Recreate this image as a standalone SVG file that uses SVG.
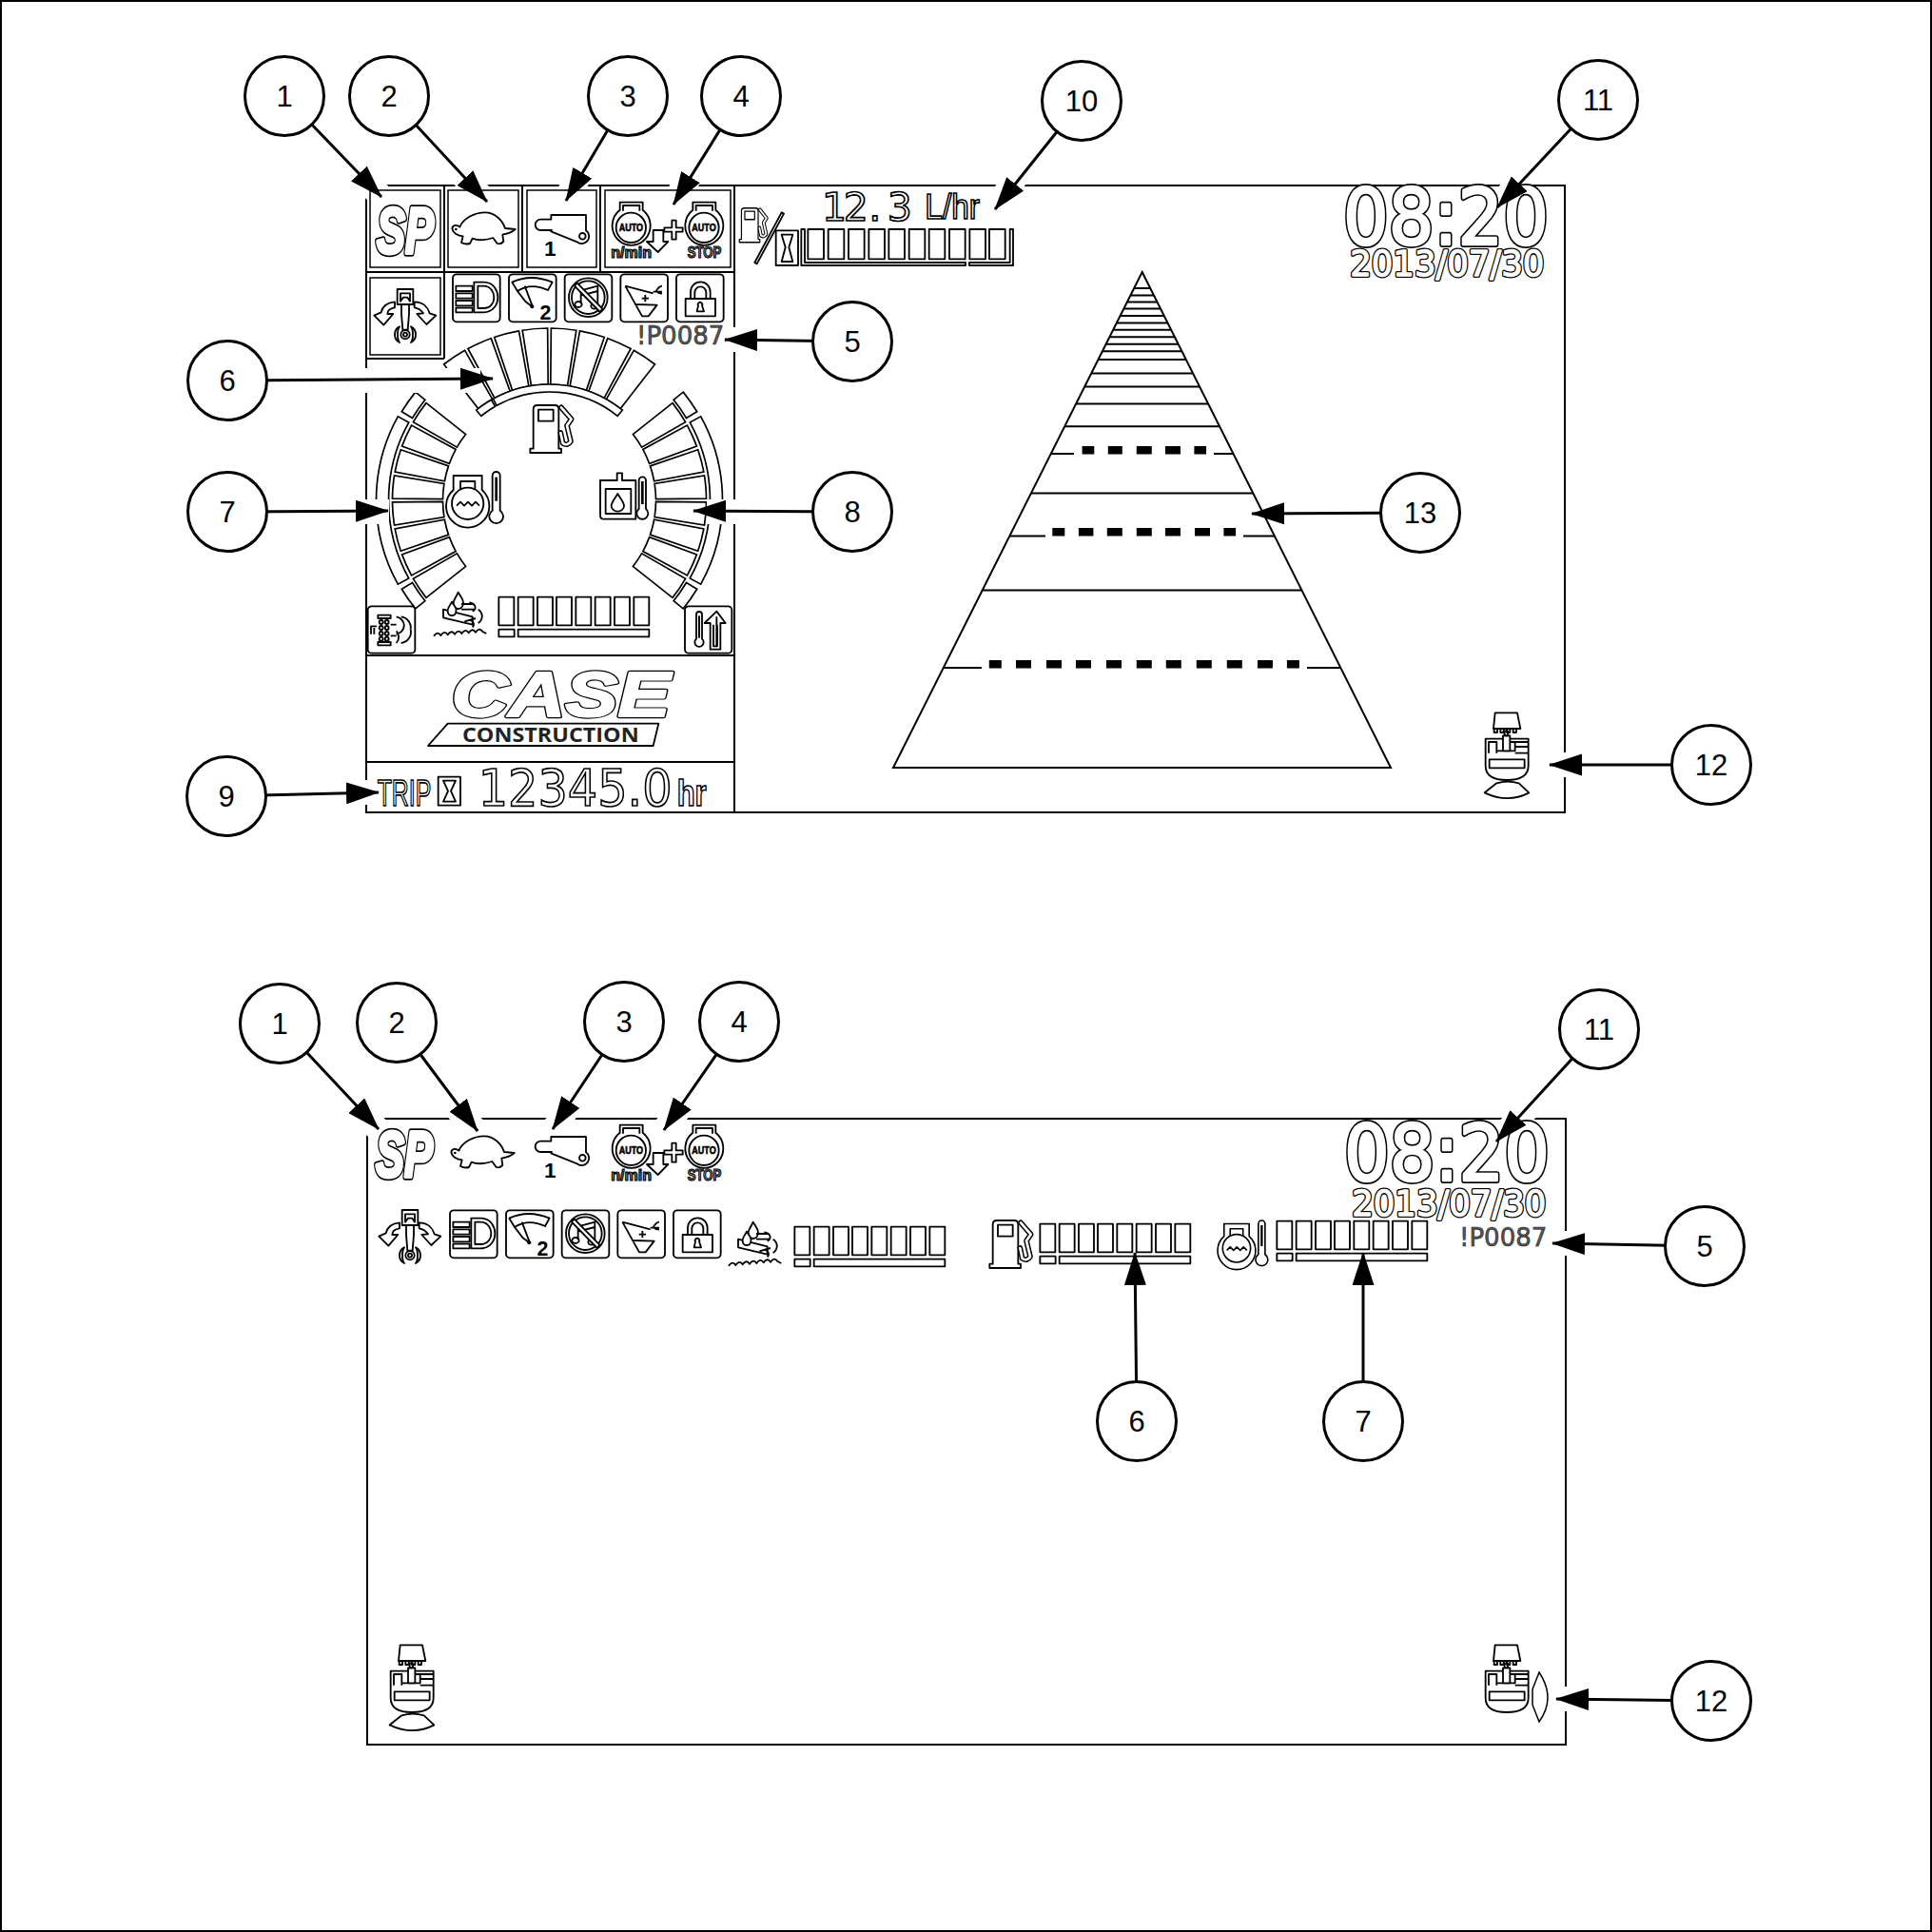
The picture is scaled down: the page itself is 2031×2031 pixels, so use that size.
<svg xmlns="http://www.w3.org/2000/svg" xmlns:xlink="http://www.w3.org/1999/xlink" width="2031" height="2031" viewBox="0 0 2031 2031">
<style>
.bg{fill:#fff}
.pl{fill:none;stroke:#000;stroke-width:2}
.hl{fill:none;stroke:#fff;stroke-width:26}
.z{fill:#fff;stroke:#000;stroke-width:5.5;stroke-linejoin:round}
.zn{fill:none;stroke:#000;stroke-width:5.5;stroke-linejoin:round}
.zk{fill:#000;stroke:none}
.g{fill:#fff;stroke:#000;stroke-width:1.7}
.gs{fill:#fff;stroke:#000;stroke-width:1.5}
.tl{fill:none;stroke:#000;stroke-width:2}
.dash{fill:#000;stroke:none}
.ot{font-family:"DejaVu Sans",sans-serif;fill:#fff;stroke:#000;stroke-width:5}
.ob{font-family:"Liberation Sans",sans-serif;font-weight:bold;fill:#fff;stroke:#000;stroke-width:5}
.fat{stroke-linejoin:round}
.bk{font-family:"Liberation Sans",sans-serif;font-weight:bold;fill:#000}
.sm{font-family:"Liberation Sans",sans-serif;font-weight:bold;fill:#888;stroke:#000;stroke-width:3.5}
.code{font-family:"DejaVu Sans",sans-serif;font-size:26px;fill:#555;stroke:#222;stroke-width:.6}
.num{font-family:"Liberation Sans",sans-serif;font-size:31px;fill:#000;text-anchor:middle}
.nc{fill:#fff;stroke:#000;stroke-width:3}
.ar{fill:none;stroke:#000;stroke-width:3;marker-end:url(#head)}
</style>
<defs>
<marker id="head" markerUnits="userSpaceOnUse" markerWidth="35" markerHeight="23" refX="34" refY="11.5" orient="auto"><path d="M0,0L35,11.5L0,23Z" fill="#000"/></marker>
<clipPath id="tri"><path d="M1200.7,286L1462,807L939,807Z"/></clipPath>
<path id="seg" class="g" d="M111.7,-8.2A112,112 0 0 1 111.7,8.2L164.6,12.1A165,165 0 0 0 164.6,-12.1Z"/>
<path id="fseg" class="g" d="M121.7,-8.9A122,122 0 0 1 121.7,8.9L180.5,13.3A181,181 0 0 0 180.5,-13.3Z"/>
<path id="band" class="g" d="M147.8,-81.9A169,169 0 0 1 147.8,81.9L159.2,88.2A182,182 0 0 0 159.2,-88.2Z"/>
<path id="cell" class="g" d="M144,-86.5L155.2,-93.2A181,181 0 0 0 140.7,-113.9L130.6,-105.7A168,168 0 0 1 144,-86.5Z"/>
<g id="half">
<use xlink:href="#seg" transform="rotate(-34.125)"/><use xlink:href="#seg" transform="rotate(-24.375)"/><use xlink:href="#seg" transform="rotate(-14.625)"/><use xlink:href="#seg" transform="rotate(-4.875)"/>
<use xlink:href="#seg" transform="rotate(4.875)"/><use xlink:href="#seg" transform="rotate(14.625)"/><use xlink:href="#seg" transform="rotate(24.375)"/><use xlink:href="#seg" transform="rotate(34.125)"/>
<use xlink:href="#band"/><use xlink:href="#cell"/><use xlink:href="#cell" transform="scale(1,-1)"/>
</g>
<text id="sp-t" class="fat" font-family="'Liberation Sans',sans-serif" font-weight="bold" font-style="italic" x="396" y="266" font-size="68" textLength="60" lengthAdjust="spacingAndGlyphs">SP</text>
<g id="ic-sp"><use xlink:href="#sp-t" fill="#000" stroke="#000" stroke-width="7.5"/><use xlink:href="#sp-t" fill="#fff" stroke="#fff" stroke-width="4"/></g>
<g id="ic-turtle" transform="translate(370 180) scale(.33333)">
<path class="z" d="M340,176C350,150 385,130 420,130C450,130 475,155 483,180L515,183C505,193 490,197 475,200L478,222Q468,232 458,228L445,210C420,218 395,218 380,212L372,228Q358,232 345,225L350,205C335,205 318,195 316,180C318,168 332,168 340,176Z"/>
<circle class="zk" cx="328" cy="183" r="4"/>
</g>
<g id="ic-lever" transform="translate(370 180) scale(.33333)">
<path class="z" d="M628,152L628,138L738,138L738,187A20,20 0 1 1 712,224L628,190L630,186L595,186A17,17 0 0 1 595,152Z"/>
<circle class="z" cx="727" cy="205" r="10"/>
<text class="bk" x="625" y="268" font-size="68" text-anchor="middle">1</text>
</g>
<g id="eng">
<path class="z" d="M845,122L845,98L917,98L917,122A60,62 0 1 1 845,122Z"/>
<path class="zn" d="M855,125L855,108L907,108L907,125"/>
<circle class="z" cx="880" cy="178" r="47"/>
<text class="bk" x="880" y="190" font-size="34" text-anchor="middle" textLength="76" lengthAdjust="spacingAndGlyphs" stroke="#000" stroke-width="2">AUTO</text>
</g>
<g id="ic-auto" transform="translate(370 180) scale(.33333)">
<use xlink:href="#eng"/><use xlink:href="#eng" x="230"/>
<path class="z" d="M950,186L982,186L982,222L997,222L965,255L930,222L950,222Z"/>
<path class="z" d="M1009,155h13v23h21v13h-21v24h-13v-24h-24v-13h24Z"/>
<text class="sm" x="817" y="273" font-size="48" textLength="128" lengthAdjust="spacingAndGlyphs">n/min</text>
<text class="sm" x="1058" y="272" font-size="48" textLength="107" lengthAdjust="spacingAndGlyphs">STOP</text>
</g>
<g id="ic-piston" transform="translate(370 180) scale(.33333)">
<path class="z" d="M135,412C105,415 95,430 92,445L70,455L100,485L130,450L112,450C112,440 120,432 135,430Z"/>
<path class="z" d="M197,412C225,412 240,430 245,448L265,455L235,483L205,450L225,448C218,438 210,432 197,430Z"/>
<path class="z" d="M156,420L156,450L160,500L176,500L180,450L180,420Z"/>
<rect class="z" x="143" y="372" width="50" height="48"/>
<path class="zn" d="M153,410L153,385L183,385L183,410L175,398L162,398Z"/>
<path class="z" d="M150,490C130,500 130,530 150,540C142,530 142,500 150,490Z"/>
<path class="z" d="M186,490C206,500 206,530 186,540C194,530 194,500 186,490Z"/>
<circle class="z" cx="168" cy="515" r="14"/><circle class="z" cx="168" cy="515" r="6"/>
</g>
<g id="ic-row" transform="translate(370 180) scale(.33333)">
<rect class="z" x="318" y="325" width="149" height="150" rx="12"/>
<rect class="z" x="495" y="325" width="149" height="150" rx="12"/>
<rect class="z" x="671" y="325" width="149" height="150" rx="12"/>
<rect class="z" x="847" y="325" width="149" height="150" rx="12"/>
<rect class="z" x="1023" y="325" width="149" height="150" rx="12"/>
<path class="z" d="M328,362h52v16h-52zM328,385h52v16h-52zM328,408h52v16h-52zM328,431h52v14h-52z"/>
<path class="z" d="M385,350L415,350C450,350 460,380 460,398C460,420 445,445 415,445L385,445Z"/>
<path class="zn" d="M397,362L415,362C440,362 448,385 448,398C448,415 438,432 415,432L397,432Z"/>
<path class="z" d="M505,350Q565,322 632,350L618,375Q565,350 522,378Z"/>
<path class="zn" d="M522,378L548,412L568,427M545,362L570,428"/>
<circle class="zk" cx="568" cy="427" r="6"/>
<text class="bk" x="610" y="468" font-size="64" text-anchor="middle">2</text>
<circle class="zn" cx="745" cy="398" r="61"/><circle class="zn" cx="745" cy="398" r="52"/>
<path class="zn" d="M722,418L722,376L775,362L775,422M722,392L775,378"/>
<ellipse class="zn" cx="714" cy="420" rx="11" ry="9"/><ellipse class="zn" cx="765" cy="425" rx="11" ry="9"/>
<path class="z" d="M702,362L710,352L790,434L782,444Z"/>
<path class="zn" d="M862,362L950,385M862,362L915,457L935,457L962,422L892,420"/>
<path class="zn" d="M950,380L958,380C965,368 972,362 978,362M978,380L962,380M962,380C966,385 972,386 978,386"/>
<path class="zn" d="M925,390V412M914,401H936" stroke-width="6"/>
<rect class="z" x="1052" y="402" width="94" height="55"/>
<path class="zn" d="M1068,402L1068,380A31,31 0 0 1 1130,380L1130,402M1081,402L1081,382A18,18 0 0 1 1117,382L1117,402"/>
<path class="zn" d="M1092,424A7,7 0 1 1 1104,424L1110,442L1088,442Z"/>
</g>
<g id="pump" transform="translate(370 180) scale(.33333)">
<path class="z" d="M572,875L572,750Q572,738 585,738L640,738Q652,738 652,750L652,875L660,875L660,888L562,888L562,875Z"/>
<rect class="z" x="588" y="752" width="47" height="36"/>
<path fill="none" stroke="#000" stroke-width="17" stroke-linecap="round" stroke-linejoin="round" d="M660,745L692,782L678,802L690,852Q680,868 665,858L658,825"/>
<path fill="none" stroke="#fff" stroke-width="8" stroke-linecap="round" stroke-linejoin="round" d="M660,745L692,782L678,802L690,852Q680,868 665,858L658,825"/>
</g>
<g id="coolant" transform="translate(370 400) scale(.33333)">
<path class="z" d="M320,345L320,300L410,300L410,345A68,68 0 1 1 320,345Z"/>
<circle class="z" cx="365" cy="388" r="50"/>
<path class="zn" d="M342,345L342,318L388,318L388,345"/>
<path class="zn" d="M330,395l12,-12l12,12l12,-12l12,12l12,-12l12,12M330,385"/>
<path class="z" d="M443,300A12,12 0 0 1 467,300L467,410A22,22 0 1 1 443,410Z"/>
<path class="zk" d="M451,305h8v75h-8z"/>
</g>
<g id="water" transform="translate(370 400) scale(.33333)">
<path class="z" d="M335,668C345,685 355,695 350,705A15,15 0 0 1 320,705C318,695 328,685 335,668Z"/>
<path class="z" d="M288,722L380,745L380,770L288,748Z"/>
<path class="z" d="M315,698C322,710 332,720 328,728A13,13 0 0 1 302,728C300,720 310,708 315,698Z"/>
<path class="zn" d="M370,700A24,16 0 0 1 380,728M398,722A28,26 0 0 1 398,765M370,755A16,14 0 0 1 380,778"/>
<path class="zn" d="M345,705L385,705M345,722L385,722M355,760L390,750"/>
<path class="zn" d="M258,806c8,-12 16,-12 22,-2c8,-12 16,-12 22,-2c8,-12 16,-12 22,-2c8,-12 16,-12 22,-2c8,-12 16,-12 22,-2c8,-12 16,-12 22,-2c8,-12 16,-12 22,-2l12,6" stroke-width="6"/>
</g>
<g id="bars" transform="translate(370 400) scale(.33333)">
<rect class="z" x="463" y="683" width="48" height="89"/><rect class="z" x="524" y="683" width="48" height="89"/><rect class="z" x="585" y="683" width="48" height="89"/><rect class="z" x="645" y="683" width="48" height="89"/><rect class="z" x="706" y="683" width="48" height="89"/><rect class="z" x="767" y="683" width="48" height="89"/><rect class="z" x="828" y="683" width="48" height="89"/><rect class="z" x="889" y="683" width="48" height="89"/>
<rect class="z" x="463" y="785" width="49" height="23"/><rect class="z" x="524" y="785" width="413" height="23"/>
</g>
<g id="excav" transform="translate(1530 730) scale(.33333)">
<path class="z" d="M125,58L195,58L205,108L120,108Z"/>
<path class="zn" d="M122,108v12h10v-12M142,108v12h10v-12M162,108v12h10v-12M182,108v12h10v-12"/>
<path class="z" d="M95,140L230,140L230,225Q230,270 162,270Q95,270 95,225Z"/>
<path class="zn" d="M105,185L105,150L130,150L130,185M130,178L188,178L188,150M172,150H230M188,165H230M188,185H230"/>
<rect class="z" x="150" y="130" width="22" height="48"/>
<rect class="zn" x="155" y="115" width="10" height="15"/>
<rect class="z" x="107" y="205" width="111" height="27"/>
</g>
<path id="sarc" class="z" d="M92,310L130,280Q165,270 200,280L232,310Q165,345 92,310Z" transform="translate(1530 730) scale(.33333)"/>
<text id="t0820-t" class="fat" font-family="'DejaVu Sans',sans-serif" x="66" y="232" font-size="244" textLength="648" lengthAdjust="spacingAndGlyphs">08:20</text>
<g id="t0820" transform="translate(1390 180) scale(.33333)"><use xlink:href="#t0820-t" fill="#000" stroke="#000" stroke-width="18"/><use xlink:href="#t0820-t" fill="#fff" stroke="#fff" stroke-width="8"/></g>
<text id="tdate-t" class="fat" font-family="'DejaVu Sans',sans-serif" x="88" y="330" font-size="110" textLength="612" lengthAdjust="spacingAndGlyphs">2013/07/30</text>
<g id="tdate" transform="translate(1390 180) scale(.33333)"><use xlink:href="#tdate-t" fill="#000" stroke="#000" stroke-width="12"/><use xlink:href="#tdate-t" fill="#fff" stroke="#fff" stroke-width="4"/></g>
<text id="case-t" class="fat" font-family="'Liberation Sans',sans-serif" font-weight="bold" font-style="italic" x="314" y="1060" font-size="200" textLength="690" lengthAdjust="spacingAndGlyphs">CASE</text>
</defs>
<rect class="bg" width="2031" height="2031"/>
<rect x="1" y="1" width="2029" height="2029" fill="none" stroke="#000" stroke-width="2"/>

<g id="panel-top-frame">
<path class="pl" d="M385,195H1645V854H385Z"/>
<path class="pl" d="M772,195V854M385,286H772M467,195V377M549,195V286M631,195V286M385,377H467M385,689H772M385,801H772"/>
</g>
<g id="panel-bottom-frame"><path class="pl" d="M386,1176H1646V1834H386Z"/></g>

<g id="gauges" transform="translate(577.5 526)">
<use xlink:href="#half"/>
<use xlink:href="#half" transform="scale(-1 1)"/>
<use xlink:href="#fseg" transform="rotate(-123.6)"/><use xlink:href="#fseg" transform="rotate(-114)"/><use xlink:href="#fseg" transform="rotate(-104.4)"/><use xlink:href="#fseg" transform="rotate(-94.8)"/>
<use xlink:href="#fseg" transform="rotate(-85.2)"/><use xlink:href="#fseg" transform="rotate(-75.6)"/><use xlink:href="#fseg" transform="rotate(-66)"/><use xlink:href="#fseg" transform="rotate(-56.4)"/>
<path class="g" transform="translate(-577.5 -526)" d="M522.2,426.3A114,114 0 0 1 649.2,437.4L654.3,431.2A122,122 0 0 0 518.4,419.3Z"/>
<path class="g" transform="translate(-577.5 -526)" d="M520.5,427.3A114,114 0 0 0 505.8,437.4L500.7,431.2A122,122 0 0 1 516.5,420.3Z"/>
</g>

<g id="frame-gaps">
<path class="hl" d="M335,138L400,206M445,138L510,211M630,150L594,210M745,155L707,214M1078,170L1046,220M1610,175L1574,218"/>
<path class="hl" d="M790,357H762M743,538H800M505,400H360M409,538H360M430,833H360M1680,804H1625M1360,539H1316"/>
<path class="hl" d="M330,1115L396,1186M440,1120L500,1188M620,1130L582,1187M740,1130L698,1188M1615,1155L1574,1200"/>
<path class="hl" d="M1680,1307H1632M1680,1786H1636"/>
</g>

<g id="pyramid">
<g clip-path="url(#tri)">
<path class="tl" d="M900,302.9H1500M900,310.4H1500M900,317.5H1500M900,324.6H1500M900,332.1H1500M900,339.6H1500M900,346.8H1500M900,354.3H1500M900,361.8H1500M900,369.3H1500M900,377.9H1500M900,392.5H1500M900,406.4H1500M900,424.6H1500M900,448.2H1500M900,518.6H1500M900,620.4H1500"/>
<path class="tl" d="M900,477.1H1129M1276,477.1H1500M900,563.6H1099M1307,563.6H1500M900,702.1H1032M1374,702.1H1500"/>
</g>
<path class="pl" d="M1200.7,286L1462,807H939Z"/>
<path class="dash" d="M1137.6,469h12.7v8.5h-12.7zM1164.8,469h15v8.5h-15zM1194.8,469h16v8.5h-16zM1225,469h16v8.5h-16zM1255.4,469h12.7v8.5h-12.7z"/>
<path class="dash" d="M1106.3,555h13v8.5h-13zM1133.9,555h15.5v8.5h-15.5zM1163.8,555h16v8.5h-16zM1194.8,555h16v8.5h-16zM1225,555h16v8.5h-16zM1256,555h16v8.5h-16zM1286.4,555h12.7v8.5h-12.7z"/>
<path class="dash" d="M1039.8,694h13v8.5h-13zM1068,694h16v8.5h-16zM1100,694h16v8.5h-16zM1131,694h16v8.5h-16zM1163,694h16v8.5h-16zM1194.8,694h16v8.5h-16zM1225.8,694h16v8.5h-16zM1257.8,694h16v8.5h-16zM1289.8,694h16v8.5h-16zM1321.9,694h16v8.5h-16zM1352.9,694h13v8.5h-13z"/>
</g>

<g id="status-top">
<rect class="gs" x="389" y="200" width="74" height="81"/><rect class="gs" x="471" y="200" width="74" height="81"/><rect class="gs" x="554" y="200" width="73" height="81"/><rect class="gs" x="636" y="200" width="132" height="81"/><rect class="gs" x="389" y="292" width="74" height="81"/>
<use xlink:href="#ic-sp"/><use xlink:href="#ic-turtle"/><use xlink:href="#ic-lever"/><use xlink:href="#ic-auto"/><use xlink:href="#ic-piston"/><use xlink:href="#ic-row"/>
<text class="code" x="669" y="362">!P0087</text>
<use xlink:href="#pump"/><use xlink:href="#coolant"/>
<g id="oil" transform="translate(370 400) scale(.33333)">
<path class="z" d="M783,315L783,425Q783,437 795,437L895,437L895,315L852,315L852,292L836,292L836,315Z"/>
<path class="zn" d="M800,342H880V420H800Z"/>
<path class="z" d="M838,357C848,375 858,385 858,395A20,18 0 0 1 818,395C818,385 828,375 838,357Z"/>
<path class="z" d="M905,315A11,11 0 0 1 927,315L927,405A18,18 0 1 1 905,405Z"/>
<path class="zk" d="M912,318h8v72h-8z"/>
</g>
<g id="injector" transform="translate(370 400) scale(.33333)">
<rect class="z" x="50" y="712" width="149" height="148" rx="12"/>
<path class="z" d="M82,740h40v10h-40zM82,825h40v10h-40z"/>
<path class="zn" d="M60,800V775H78M70,800V780"/>
<circle class="zn" cx="92" cy="762" r="6"/><circle class="zn" cx="110" cy="762" r="6"/><circle class="zn" cx="92" cy="780" r="6"/><circle class="zn" cx="110" cy="780" r="6"/><circle class="zn" cx="92" cy="798" r="6"/><circle class="zn" cx="110" cy="798" r="6"/><circle class="zn" cx="92" cy="815" r="6"/><circle class="zn" cx="110" cy="815" r="6"/>
<path class="zn" d="M122,770H140M122,805H140M140,745A30,28 0 0 1 140,800M140,790A28,28 0 0 1 140,828M155,745A35,35 0 0 1 185,785M155,828A35,35 0 0 0 185,785"/>
</g>
<g id="uptemp" transform="translate(370 400) scale(.33333)">
<rect class="z" x="1050" y="712" width="148" height="148" rx="12"/>
<path class="z" d="M1086,738A9,9 0 0 1 1104,738L1104,815A14,14 0 1 1 1086,815Z"/>
<path class="zk" d="M1092,742h6v70h-6z"/>
<path class="z" d="M1150,728L1178,765L1162,765L1162,848L1130,848L1130,765L1112,765Z"/>
<path class="zn" d="M1150,745L1150,838M1140,770L1140,838L1152,838L1152,770"/>
</g>
<use xlink:href="#water"/><use xlink:href="#bars"/>
<g id="logo" transform="translate(370 400) scale(.33333)">
<use xlink:href="#case-t" fill="#000" stroke="#000" stroke-width="13"/><use xlink:href="#case-t" fill="#fff" stroke="#fff" stroke-width="6"/>
<path class="z" d="M240,1152L302,1082L967,1082L950,1152Z"/>
<text x="348" y="1140" font-family="'Open Sans',sans-serif" font-weight="700" font-size="66" fill="#222" textLength="557" lengthAdjust="spacingAndGlyphs">CONSTRUCTION</text>
</g>
<g id="trip" transform="translate(370 400) scale(.33333)">
<text class="ob" x="80" y="1340" font-size="118" textLength="170" lengthAdjust="spacingAndGlyphs" style="font-weight:normal">TRIP</text>
<rect class="z" x="272" y="1250" width="70" height="90"/>
<path class="zn" d="M288,1262H327L312,1295L327,1328H288L303,1295Z"/>
<text class="ot" x="398" y="1342" font-size="158" textLength="612" lengthAdjust="spacingAndGlyphs">12345.0</text>
<text class="ob" x="1025" y="1342" font-size="118" textLength="93" lengthAdjust="spacingAndGlyphs">hr</text>
</g>
<g id="fuel-rate" transform="translate(770 180) scale(.33333)">
<text class="ot" x="282 350 430 488" y="155" font-size="123">12.3</text>
<text class="ob" x="607" y="150" font-size="110" textLength="173" lengthAdjust="spacingAndGlyphs" style="font-weight:normal">L/hr</text>
<path class="z" d="M70,288L155,130L162,134L77,292Z"/>
<rect class="z" x="137" y="187" width="70" height="110"/>
<path class="zn" d="M155,200H190L178,240L190,285H155L167,240Z"/>
<path class="z" d="M238,183h50v94h-50zM302,183h50v94h-50zM366,183h50v94h-50zM430,183h50v94h-50zM493,183h50v94h-50zM557,183h50v94h-50zM620,183h50v94h-50zM684,183h50v94h-50zM748,183h50v94h-50zM810,183h50v94h-50z"/>
<path class="z" d="M217,183L217,297L735,297L735,288L228,288L228,183Z"/>
<path class="z" d="M747,297L747,288L875,288L875,183L885,183L885,297Z"/>
</g>
<use xlink:href="#pump" transform="translate(409.4 -88) scale(.66 .72)"/>
<use xlink:href="#t0820"/><use xlink:href="#tdate"/>
<use xlink:href="#excav"/><use xlink:href="#sarc"/>
</g>

<g id="status-bottom">
<use xlink:href="#ic-sp" transform="translate(-1 971)"/><use xlink:href="#ic-turtle" transform="translate(-1 971)"/><use xlink:href="#ic-lever" transform="translate(0 969)"/><use xlink:href="#ic-auto" transform="translate(0 970)"/><use xlink:href="#ic-piston" transform="translate(5 968)"/><use xlink:href="#ic-row" transform="translate(-3 984)"/>
<use xlink:href="#water" transform="translate(310 662)"/><use xlink:href="#bars" transform="translate(311 662)"/>
<use xlink:href="#pump" transform="translate(483 857)"/><use xlink:href="#bars" transform="translate(569 659)"/>
<use xlink:href="#coolant" transform="translate(867.3 846.5) scale(.88)"/><use xlink:href="#bars" transform="translate(818 656)"/>
<text class="code" x="1534" y="1310">!P0087</text>
<use xlink:href="#t0820" transform="translate(1 984)"/><use xlink:href="#tdate" transform="translate(2 988)"/>
<use xlink:href="#excav" transform="translate(-1151 980)"/><use xlink:href="#sarc" transform="translate(-1151 980)"/>
<use xlink:href="#excav" transform="translate(0 980)"/>
<path class="gs" d="M1618,1758Q1636,1785 1618,1810L1611,1792L1611,1776Z"/>
</g>

<g id="connectors">
<path class="ar" d="M299,101L401,207"/><path class="ar" d="M409,101L512,212"/><path class="ar" d="M660,101L595,211"/><path class="ar" d="M779,101L708,215"/>
<path class="ar" d="M1137,106L1046,220"/><path class="ar" d="M1680,105L1574,218"/><path class="ar" d="M896,359L762,357"/><path class="ar" d="M239,400L518,398"/>
<path class="ar" d="M239,538L408,537"/><path class="ar" d="M896,538L729,537"/><path class="ar" d="M238,837L398,833"/><path class="ar" d="M1493,539L1316,540"/><path class="ar" d="M1799,804H1629"/>
<path class="ar" d="M294,1076L398,1187"/><path class="ar" d="M417,1075L502,1189"/><path class="ar" d="M656,1074L581,1187"/><path class="ar" d="M777,1074L698,1188"/><path class="ar" d="M1681,1082L1573,1200"/>
<path class="ar" d="M1792,1310L1632,1307"/><path class="ar" d="M1195,1494L1193,1317"/><path class="ar" d="M1433,1494V1317"/><path class="ar" d="M1799,1788L1636,1786"/>
</g>

<g id="n1"><circle class="nc" cx="299" cy="101" r="41.5"/><text class="num" x="299" y="112">1</text></g>
<g id="n2"><circle class="nc" cx="409" cy="101" r="41.5"/><text class="num" x="409" y="112">2</text></g>
<g id="n3"><circle class="nc" cx="660" cy="101" r="41.5"/><text class="num" x="660" y="112">3</text></g>
<g id="n4"><circle class="nc" cx="779" cy="101" r="41.5"/><text class="num" x="779" y="112">4</text></g>
<g id="n10"><circle class="nc" cx="1137" cy="106" r="41.5"/><text class="num" x="1137" y="117">10</text></g>
<g id="n11"><circle class="nc" cx="1680" cy="105" r="41.5"/><text class="num" x="1680" y="116">11</text></g>
<g id="n5"><circle class="nc" cx="896" cy="359" r="41.5"/><text class="num" x="896" y="370">5</text></g>
<g id="n6"><circle class="nc" cx="239" cy="400" r="41.5"/><text class="num" x="239" y="411">6</text></g>
<g id="n7"><circle class="nc" cx="239" cy="538" r="41.5"/><text class="num" x="239" y="549">7</text></g>
<g id="n8"><circle class="nc" cx="896" cy="538" r="41.5"/><text class="num" x="896" y="549">8</text></g>
<g id="n13"><circle class="nc" cx="1493" cy="539" r="41.5"/><text class="num" x="1493" y="550">13</text></g>
<g id="n12"><circle class="nc" cx="1799" cy="804" r="41.5"/><text class="num" x="1799" y="815">12</text></g>
<g id="n9"><circle class="nc" cx="238" cy="837" r="41.5"/><text class="num" x="238" y="848">9</text></g>
<g id="m1"><circle class="nc" cx="294" cy="1076" r="41.5"/><text class="num" x="294" y="1087">1</text></g>
<g id="m2"><circle class="nc" cx="417" cy="1075" r="41.5"/><text class="num" x="417" y="1086">2</text></g>
<g id="m3"><circle class="nc" cx="656" cy="1074" r="41.5"/><text class="num" x="656" y="1085">3</text></g>
<g id="m4"><circle class="nc" cx="777" cy="1074" r="41.5"/><text class="num" x="777" y="1085">4</text></g>
<g id="m11"><circle class="nc" cx="1681" cy="1082" r="41.5"/><text class="num" x="1681" y="1093">11</text></g>
<g id="m5"><circle class="nc" cx="1792" cy="1310" r="41.5"/><text class="num" x="1792" y="1321">5</text></g>
<g id="m6"><circle class="nc" cx="1195" cy="1494" r="41.5"/><text class="num" x="1195" y="1505">6</text></g>
<g id="m7"><circle class="nc" cx="1433" cy="1494" r="41.5"/><text class="num" x="1433" y="1505">7</text></g>
<g id="m12"><circle class="nc" cx="1799" cy="1788" r="41.5"/><text class="num" x="1799" y="1799">12</text></g>
</svg>
